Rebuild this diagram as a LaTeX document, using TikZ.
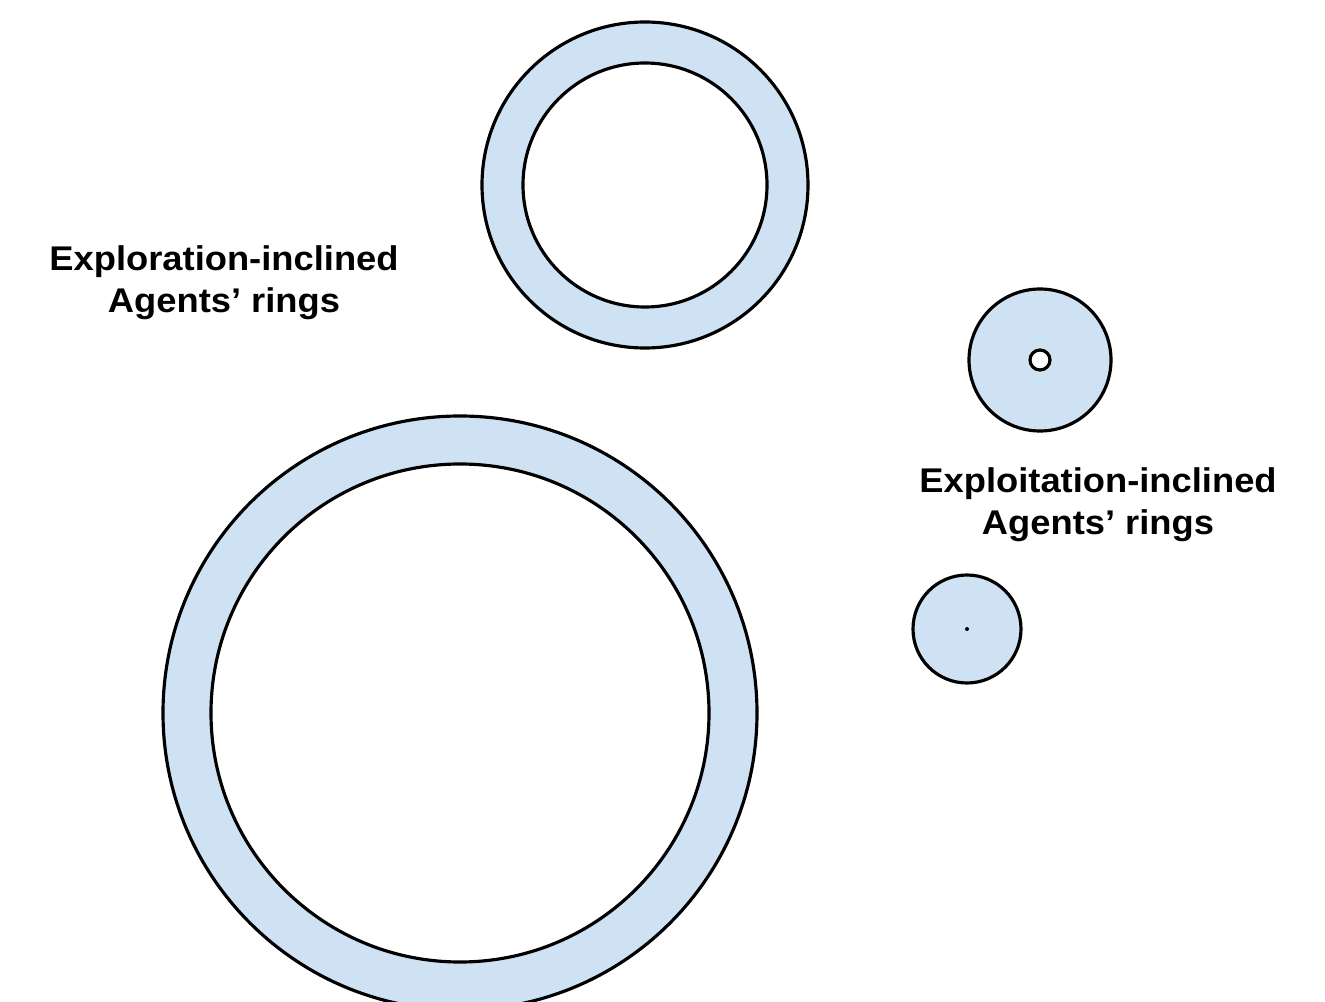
\documentclass[tikz,border=0pt]{standalone}
\usepackage{fontspec}
\usepackage{xcolor}
\usepackage{tikz}
\newfontfamily\labfont[FakeStretch=1.06]{Liberation Sans}
\definecolor{ringfill}{HTML}{CFE2F3}
\definecolor{edge}{HTML}{000000}
\tikzset{
  ring/.style={draw=edge, fill=ringfill, line width=1.8pt},
  hole/.style={draw=edge, fill=white, line width=1.8pt},
  lab/.style={text=edge, align=center, font=\labfont\bfseries\fontsize{19.5}{23.8}\selectfont},
}
\begin{document}
\begin{tikzpicture}[x=0.2mm, y=0.2mm]
  \useasboundingbox (0,0) rectangle (1325,-1002);
  \coordinate (Top) at (645,-185);
  \coordinate (Big) at (460,-713);
  \coordinate (SmA) at (1040,-360);
  \coordinate (SmB) at (967,-629);

  % exploration rings
  \draw[ring] (Top) circle (163);
  \draw[hole] (Top) circle (122);
  \draw[ring] (Big) circle (297);
  \draw[hole] (Big) circle (249);

  % exploitation rings
  \draw[ring] (SmA) circle (71);
  \draw[hole] (SmA) circle (10);
  \draw[ring] (SmB) circle (54);
  \fill[edge] (SmB) circle (2);

  \node[lab] (explore) at (224,-283) {Exploration-inclined\\Agents’ rings};
  \node[lab] (exploit) at (1098,-505) {Exploitation-inclined\\Agents’ rings};
\end{tikzpicture}
\end{document}
